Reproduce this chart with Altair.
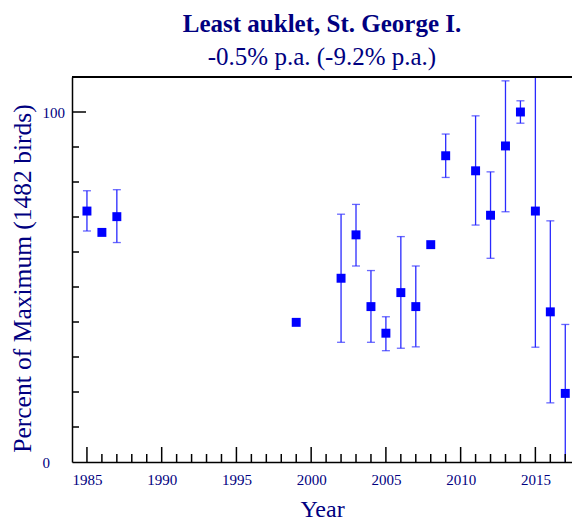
import altair as alt
import pandas as pd

# ---- data ----
years = [1985, 1986, 1987, 1999, 2002, 2003, 2004, 2005, 2006, 2007, 2008,
         2009, 2011, 2012, 2013, 2014, 2015, 2016, 2017]
values = [71.7, 65.6, 70.1, 39.9, 52.5, 64.9, 44.4, 36.8, 48.4, 44.4, 62.1,
          87.5, 83.2, 70.5, 90.3, 100.0, 71.7, 42.9, 19.6]
lower = [66.0, None, 62.7, None, 34.2, 56.0, 34.2, 31.8, 32.5, 32.9, None,
         81.3, 67.7, 58.2, 71.5, 96.8, 32.8, 16.9, -5.0]
upper = [77.5, None, 77.8, None, 70.8, 73.6, 54.7, 41.5, 64.4, 56.0, None,
         93.7, 98.9, 82.9, 108.9, 103.2, 125.0, 68.9, 39.3]

x_tick_labels = [1985, 1990, 1995, 2000, 2005, 2010, 2015]
x_minor = list(range(1985, 2018))
y_tick_labels = [0, 100]
y_minor = list(range(10, 101, 10))

title = "Least auklet, St. George I."
subtitle = "-0.5% p.a. (-9.2% p.a.)"
y_title = "Percent of Maximum (1482 birds)"
x_title = "Year"

# ---- layout ----
W, H = 500, 385
NAVY = "#000080"
FONT = "Liberation Serif"
XDOM = [1984, 2017.45]
YDOM = [0, 110]

df = pd.DataFrame({"year": years, "value": values, "lo": lower, "hi": upper})
err = df.dropna()

xs = alt.Scale(domain=XDOM, nice=False, zero=False)
ys = alt.Scale(domain=YDOM, nice=False, zero=False)

xaxis = alt.Axis(values=x_tick_labels, format="d", ticks=False, grid=False,
                 domainColor="black", domainWidth=1.5, labelFont=FONT,
                 labelFontSize=15, labelColor=NAVY, labelPadding=10,
                 title=x_title, titleFont=FONT, titleFontSize=24,
                 titleFontWeight="normal", titleColor=NAVY, titlePadding=10)
yaxis = alt.Axis(values=y_tick_labels, ticks=False, grid=False,
                 domainColor="black", domainWidth=1.5, labelFont=FONT,
                 labelFontSize=15, labelColor=NAVY, labelAlign="left",
                 labelPadding=30, title=y_title, titleFont=FONT,
                 titleFontSize=25.5, titleFontWeight="normal", titleColor=NAVY,
                 titleAngle=-90, titleBaseline="middle", titleX=-50, titleY=201)

base = alt.Chart(df)

points = base.mark_square(size=80, color="#0000ff", opacity=1, clip=True).encode(
    x=alt.X("year:Q", scale=xs, axis=xaxis),
    y=alt.Y("value:Q", scale=ys, axis=yaxis),
)

bars = alt.Chart(err).mark_rule(color="#2a2aff", strokeWidth=1.3, clip=True).encode(
    x=alt.X("year:Q", scale=xs),
    y=alt.Y("lo:Q", scale=ys),
    y2="hi:Q",
)
cap_hi = alt.Chart(err).mark_tick(color="#2a2aff", size=8, thickness=1.3,
                                  orient="horizontal", clip=True).encode(
    x=alt.X("year:Q", scale=xs), y=alt.Y("hi:Q", scale=ys))
cap_lo = alt.Chart(err).mark_tick(color="#2a2aff", size=8, thickness=1.3,
                                  orient="horizontal", clip=True).encode(
    x=alt.X("year:Q", scale=xs), y=alt.Y("lo:Q", scale=ys))

xt = pd.DataFrame({"t": x_minor})
xt["major"] = xt["t"] % 5 == 0
xtick_minor = alt.Chart(xt[~xt["major"]]).mark_rule(color="black", strokeWidth=1.5).encode(
    x=alt.X("t:Q", scale=xs), y=alt.value(H), y2=alt.value(H - 8))
xtick_major = alt.Chart(xt[xt["major"]]).mark_rule(color="black", strokeWidth=1.5).encode(
    x=alt.X("t:Q", scale=xs), y=alt.value(H), y2=alt.value(H - 15))

yt = pd.DataFrame({"t": y_minor})
ytick_minor = alt.Chart(yt[yt["t"] != 100]).mark_rule(color="black", strokeWidth=1.5).encode(
    y=alt.Y("t:Q", scale=ys), x=alt.value(0), x2=alt.value(7))
ytick_major = alt.Chart(yt[yt["t"] == 100]).mark_rule(color="black", strokeWidth=1.5).encode(
    y=alt.Y("t:Q", scale=ys), x=alt.value(0), x2=alt.value(14))

top_line = alt.Chart(df).mark_rule(color="black", strokeWidth=1.5).encode(
    x=alt.value(0), x2=alt.value(W), y=alt.value(0))

chart = alt.layer(
    bars, cap_hi, cap_lo, points, xtick_minor, xtick_major,
    ytick_minor, ytick_major, top_line,
).properties(
    width=W, height=H,
    title=alt.TitleParams(text=title, subtitle=subtitle, anchor="middle",
                          font=FONT, fontSize=25, fontWeight="bold", color=NAVY,
                          subtitleFont=FONT, subtitleFontSize=25,
                          subtitleColor=NAVY, subtitlePadding=8, offset=6),
    autosize=alt.AutoSizeParams(type="none"),
    padding={"left": 72, "top": 77, "right": 0, "bottom": 59},
    background="white",
).configure_view(stroke=None)

chart.save("out.html", embed_options={"renderer": "svg", "actions": False})
